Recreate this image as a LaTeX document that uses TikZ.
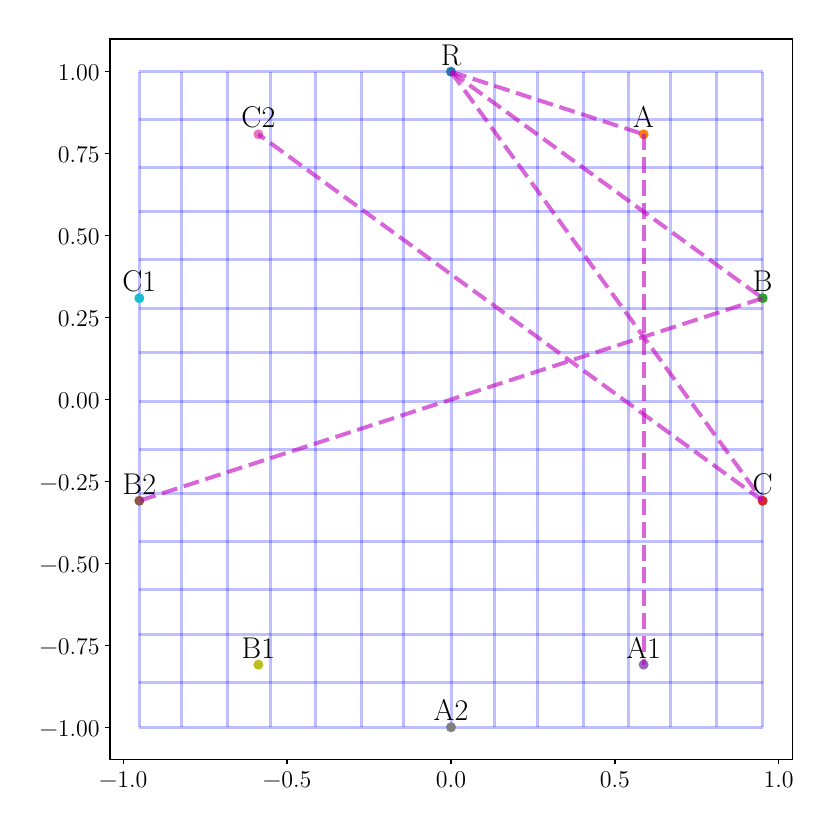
\documentclass[tikz,border=0pt]{standalone}
\usepackage{fontspec}
\definecolor{tabblue}{HTML}{1F77B4}
\definecolor{taborange}{HTML}{FF7F0E}
\definecolor{tabgreen}{HTML}{2CA02C}
\definecolor{tabred}{HTML}{D62728}
\definecolor{tabpurple}{HTML}{9467BD}
\definecolor{tabbrown}{HTML}{8C564B}
\definecolor{tabpink}{HTML}{E377C2}
\definecolor{tabgray}{HTML}{7F7F7F}
\definecolor{tabolive}{HTML}{BCBD22}
\definecolor{tabcyan}{HTML}{17BECF}
\definecolor{mline}{HTML}{BF00BF}
\begin{document}
\begin{tikzpicture}[x=163.85pt,y=163.9pt,
  gridln/.style={blue, opacity=0.25, line width=1.5pt},
  frameln/.style={black, line width=0.7pt},
  tickln/.style={black, line width=0.7pt},
  dot/.style={circle, inner sep=0pt, minimum size=5pt, draw=none},
  lab/.style={anchor=base, inner sep=0pt, font=\fontsize{15}{18}\selectfont, yshift=3.3pt},
  ticklab/.style={inner sep=0pt, font=\fontsize{12}{14}\selectfont},
  conn/.style={draw=mline, opacity=0.6, line width=2pt, dash pattern=on 8pt off 3.4pt}]
\useasboundingbox (-1.3763,-1.3133) rectangle (1.1566,1.2187);

% grid
\foreach \gx in {-0.9511,-0.822,-0.681,-0.552,-0.412,-0.273,-0.146,0,0.134,0.263,0.405,0.543,0.670,0.811,0.9511}
  \draw[gridln] (\gx,-1) -- (\gx,1);
\foreach \gy in {1,0.855,0.708,0.573,0.426,0.278,0.143,-0.005,-0.154,-0.286,-0.434,-0.581,-0.716,-0.863,-1}
  \draw[gridln] (-0.9511,\gy) -- (0.9511,\gy);

% frame and ticks
\draw[frameln] (-1.0406,-1.0977) rectangle (1.0415,1.0998);
\foreach \v/\t [count=\i] in {-1/−1.0,-0.5/−0.5,0/0.0,0.5/0.5,1/1.0}{
  \draw[tickln] (\v,-1.0977) -- ++(0,-2.5pt);
  \node[ticklab, anchor=base] (xt\i) at (\v,-1.1852) {\t};
}
\foreach \v/\t [count=\i] in {-1/−1.00,-0.75/−0.75,-0.5/−0.50,-0.25/−0.25,0/0.00,0.25/0.25,0.5/0.50,0.75/0.75,1/1.00}{
  \draw[tickln] (-1.0406,\v) -- ++(-2.5pt,0);
  \node[ticklab, anchor=base east, yshift=-4.4pt] (yt\i) at (-1.0711,\v) {\t};
}

% points
\node[dot, fill=tabblue]   (R)  at (0,1) {};
\node[dot, fill=taborange] (A)  at (0.5878,0.8090) {};
\node[dot, fill=tabgreen]  (B)  at (0.9511,0.3090) {};
\node[dot, fill=tabred]    (C)  at (0.9511,-0.3090) {};
\node[dot, fill=tabpurple] (A1) at (0.5878,-0.8090) {};
\node[dot, fill=tabbrown]  (B2) at (-0.9511,-0.3090) {};
\node[dot, fill=tabpink]   (C2) at (-0.5878,0.8090) {};
\node[dot, fill=tabgray]   (A2) at (0,-1) {};
\node[dot, fill=tabolive]  (B1) at (-0.5878,-0.8090) {};
\node[dot, fill=tabcyan]   (C1) at (-0.9511,0.3090) {};

% connectors
\draw[conn] (R.center) -- (A.center);
\draw[conn] (R.center) -- (B.center);
\draw[conn] (R.center) -- (C.center);
\draw[conn] (A.center) -- (A1.center);
\draw[conn] (B.center) -- (B2.center);
\draw[conn] (C.center) -- (C2.center);

% labels
\node[lab] (Rlab)  at (R.center)  {R};
\node[lab] (Alab)  at (A.center)  {A};
\node[lab] (Blab)  at (B.center)  {B};
\node[lab] (Clab)  at (C.center)  {C};
\node[lab] (A1lab) at (A1.center) {A1};
\node[lab] (A2lab) at (A2.center) {A2};
\node[lab] (B1lab) at (B1.center) {B1};
\node[lab] (B2lab) at (B2.center) {B2};
\node[lab] (C1lab) at (C1.center) {C1};
\node[lab] (C2lab) at (C2.center) {C2};
\end{tikzpicture}
\end{document}
